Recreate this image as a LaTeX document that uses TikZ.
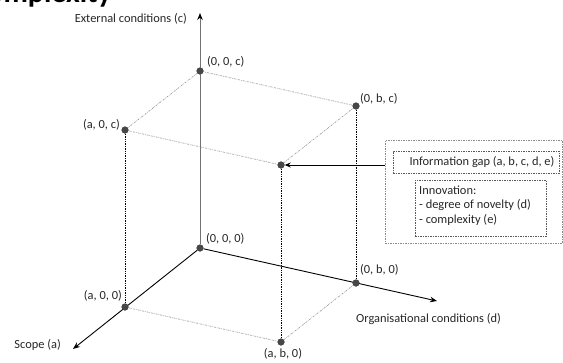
\documentclass[tikz,border=0pt]{standalone}
\usepackage{fontspec}
\setmainfont{Carlito}
\usetikzlibrary{arrows.meta}

\begin{document}
\begin{tikzpicture}[x=1pt, y=-1pt,
  font=\fontsize{12.4}{14.5}\selectfont,
  dot/.style={circle, fill=black!72, inner sep=0pt, minimum size=7pt},
  axisline/.style={black, line width=0.9pt, -{Stealth[length=7pt, width=5.5pt]}},
  upaxis/.style={black!55, line width=0.9pt, -{Stealth[length=7pt, width=5.5pt, color=black]}},
  rim/.style={black!40, line width=0.6pt, dash pattern=on 2pt off 1pt on 0.6pt off 1pt},
  drop/.style={black, line width=0.55pt, dash pattern=on 1.4pt off 1pt},
  lbl/.style={inner sep=0pt, text=black!85},
  frame/.style={draw=black!45, line width=0.6pt, dash pattern=on 1.5pt off 1pt, inner sep=0pt},
  tagbox/.style={draw=black!65, line width=0.6pt, dash pattern=on 1.5pt off 1pt, inner sep=0pt}
]
\useasboundingbox (0,0) rectangle (563,362);

% heading, mostly above the page edge
\node[anchor=base east, inner sep=0pt, font=\fontsize{30}{30}\selectfont\bfseries] (title) at (112,2.5) {Complexity};

% corners of the box
\node[dot] (o)   at (200,248) {};
\node[dot] (a0)  at (125,307) {};
\node[dot] (b0)  at (356,283) {};
\node[dot] (ab0) at (281,342) {};
\node[dot] (c)   at (200,71)  {};
\node[dot] (ac)  at (125,130) {};
\node[dot] (bc)  at (356,106) {};
\node[dot] (abc) at (281,165) {};

% axis ends
\coordinate (ctip) at (200,13);
\coordinate (atip) at (73,349);
\coordinate (btip) at (437,301);

% upper face
\draw[rim] (c) -- (ac) -- (abc) -- (bc) -- (c);
% lower face
\draw[rim] (a0) -- (ab0) -- (b0);
% vertical edges
\draw[drop] (ac) -- (a0);
\draw[drop] (abc) -- (ab0);
\draw[drop] (bc) -- (b0);

% axes
\draw[upaxis] (o) -- (ctip);
\draw[axisline] (o) -- (atip);
\draw[axisline] (o) -- (btip);

% redraw dots on top of the lines
\foreach \p in {o,a0,b0,ab0,c,ac,bc,abc} \fill[black!72] (\p) circle (3.5pt);

% axis labels
\node[lbl, anchor=east] (lc) at (187,19) {External conditions (c)};
\node[lbl, anchor=east] (la) at (61,345) {Scope (a)};
\node[lbl, anchor=west] (lb) at (356,319) {Organisational conditions (d)};

% corner labels
\node[lbl, anchor=west] (tc)   at (207,62)  {(0, 0, c)};
\node[lbl, anchor=east] (tac)  at (120,125) {(a, 0, c)};
\node[lbl, anchor=west] (tbc)  at (360,99)  {(0, b, c)};
\node[lbl, anchor=west] (to)   at (206,239) {(0, 0, 0)};
\node[lbl, anchor=east] (ta0)  at (122,296) {(a, 0, 0)};
\node[lbl, anchor=west] (tb0)  at (360,270) {(0, b, 0)};
\node[lbl] (tab0) at (283,354) {(a, b, 0)};

% explanation boxes
\node[frame, minimum width=177pt, minimum height=103pt] (outer) at (473.5,191.5) {};
\node[tagbox, minimum width=166pt, minimum height=22pt] (gap) at (476,162) {};
\node[lbl] (gaptext) at (482,162) {Information gap (a, b, c, d, e)};
\node[tagbox, minimum width=131pt, minimum height=56pt] (innov) at (480.5,208) {};
\node[lbl, anchor=west, align=left] (innovtext) at (419,205.5)
  {Innovation:\\- degree of novelty (d)\\- complexity (e)};

% pointer to the inner corner
\draw[black, line width=0.8pt, -{Stealth[length=6pt, width=5pt]}] (outer.west |- abc) -- (abc);
\end{tikzpicture}
\end{document}
